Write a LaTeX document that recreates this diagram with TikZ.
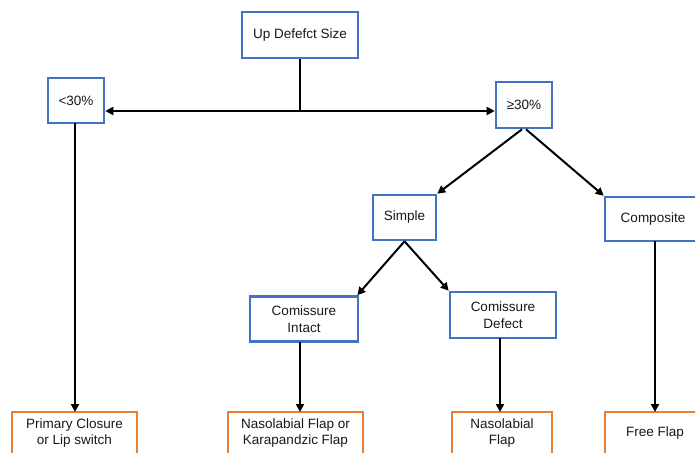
\documentclass[tikz,border=0pt]{standalone}
\usepackage{fontspec}
\setmainfont{Liberation Sans}
\usetikzlibrary{arrows.meta}
\definecolor{boxblue}{HTML}{4472C4}
\definecolor{boxorange}{HTML}{ED7D31}
\begin{document}
\begin{tikzpicture}[x=1pt,y=-1pt,
  every node/.style={font=\fontsize{13.5}{16.5}\selectfont, text=black!90, align=center, inner sep=0pt},
  bluebox/.style={draw=boxblue, line width=2.6pt, fill=white},
  orangebox/.style={draw=boxorange, line width=2.6pt, fill=white},
  conn/.style={line width=2pt, -{Triangle[length=8pt,width=8pt]}},
  line/.style={line width=2pt}]
\useasboundingbox (0,0) rectangle (695,452);
\clip (0,0) rectangle (695,452);
\fill[white] (0,0) rectangle (695,452);
% nodes
\node[bluebox, minimum width=116pt, minimum height=46pt] (top) at (300,35) {Up Defefct Size};
\node[bluebox, minimum width=56pt, minimum height=45pt] (lt) at (76,100.5) {<30\%};
\node[bluebox, minimum width=56pt, minimum height=46pt] (ge) at (524,105) {≥30\%};
\node[bluebox, minimum width=63pt, minimum height=45pt] (simple) at (404.5,217.5) {Simple};
\node[bluebox, minimum width=96pt, minimum height=44pt] (comp) at (653,219) {Composite};
\node[bluebox, minimum width=108pt, minimum height=45pt] (ci) at (304,319) {Comissure\\Intact};
\node[bluebox, minimum width=106pt, minimum height=46pt] (cd) at (503,315) {Comissure\\Defect};
\node[orangebox, minimum width=125pt, minimum height=42pt] (b1) at (74.5,433) {Primary Closure\\or Lip switch};
\node[orangebox, minimum width=135pt, minimum height=42pt] (b2) at (295.5,433) {Nasolabial Flap or\\Karapandzic Flap};
\node[orangebox, minimum width=100pt, minimum height=42pt] (b3) at (502,433) {Nasolabial\\Flap};
\node[orangebox, minimum width=100pt, minimum height=42pt] (b4) at (655,433) {Free Flap};
% connectors
\coordinate (split) at (300,111);
\draw[line] (top.south) -- (split);
\draw[conn] (split) -- (lt.east |- split);
\draw[conn] (split) -- (ge.west |- split);
\draw[conn] (75,123) -- (75,412);
\draw[conn] ([xshift=-2pt]ge.south) -- (simple.north east);
\draw[conn] ([xshift=2pt]ge.south) -- (comp.north west);
\draw[conn] (simple.south) -- ([xshift=-2pt]ci.north east);
\draw[conn] (simple.south) -- (cd.north west);
\draw[conn] (300,342) -- (300,412);
\draw[conn] (500,338) -- (500,412);
\draw[conn] (655,241) -- (655,412);
\end{tikzpicture}
\end{document}
